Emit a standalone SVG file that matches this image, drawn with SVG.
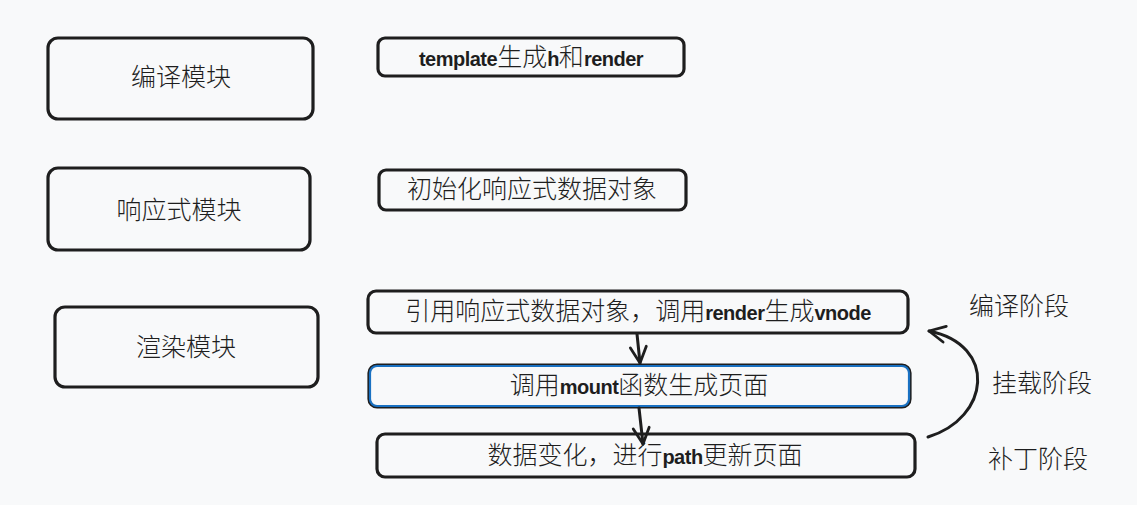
<svg xmlns="http://www.w3.org/2000/svg" width="1137" height="505" viewBox="0 0 1137 505">
<style>
.box{fill:none;stroke:#1e1e1e;stroke-width:3.2;stroke-linejoin:round}
.blue{fill:none;stroke:#1971c2;stroke-width:2.2}
.t{font-family:"Noto Sans CJK SC","Noto Sans",sans-serif;font-size:25px;font-weight:300;fill:#1e1e1e;text-anchor:middle}
.l{font-family:"Liberation Sans",sans-serif;font-weight:bold;font-size:20px;letter-spacing:-0.5px}
.conn{fill:none;stroke:#1e1e1e;stroke-width:3;stroke-linecap:round}
</style>
<defs>
<marker id="ah" viewBox="0 0 20 20" refX="18" refY="10" markerWidth="20" markerHeight="20" markerUnits="userSpaceOnUse" orient="auto">
<path d="M2 2 L18 10 L2 18" fill="none" stroke="#1e1e1e" stroke-width="2.8" stroke-linecap="round" stroke-linejoin="round"/>
</marker>
</defs>
<rect width="1137" height="505" fill="#f8f9fa"/>
<g id="n-compile-module"><rect class="box" x="48" y="38" width="265" height="81" rx="10"/><text class="t" x="181" y="86">编译模块</text></g>
<g id="n-reactive-module"><rect class="box" x="48" y="168" width="262" height="82" rx="10"/><text class="t" x="179" y="219">响应式模块</text></g>
<g id="n-render-module"><rect class="box" x="55" y="307" width="263" height="80" rx="10"/><text class="t" x="186" y="356">渲染模块</text></g>
<g id="n-template"><rect class="box" x="378" y="38" width="306" height="38" rx="7"/><text class="t" x="531" y="66"><tspan class="l">template</tspan>生成<tspan class="l">h</tspan>和<tspan class="l">render</tspan></text></g>
<g id="n-init"><rect class="box" x="379" y="170" width="307" height="40" rx="7"/><text class="t" x="532" y="198">初始化响应式数据对象</text></g>
<g id="n-ref"><rect class="box" x="368" y="291" width="540" height="42" rx="8"/><text class="t" x="638" y="320">引用响应式数据对象，调用<tspan class="l">render</tspan>生成<tspan class="l">vnode</tspan></text></g>
<g id="n-mount"><rect class="box" x="369" y="365" width="541" height="42" rx="8"/><rect class="blue" x="370" y="366" width="539" height="40" rx="7"/><text class="t" x="639" y="394">调用<tspan class="l">mount</tspan>函数生成页面</text></g>
<g id="n-patch"><rect class="box" x="377" y="434" width="538" height="43" rx="8"/><text class="t" x="645" y="464">数据变化，进行<tspan class="l">path</tspan>更新页面</text></g>
<g id="labels">
<text class="t" x="1019" y="315">编译阶段</text>
<text class="t" x="1042" y="392">挂载阶段</text>
<text class="t" x="1038" y="468">补丁阶段</text>
</g>
<g id="connectors">
<path class="conn" d="M637 334 L640 363" marker-end="url(#ah)"/>
<path class="conn" d="M639 408 L643 444" marker-end="url(#ah)"/>
<path class="conn" d="M928 437 C 990 418, 998 345, 929 331" marker-end="url(#ah)"/>
</g>
</svg>
